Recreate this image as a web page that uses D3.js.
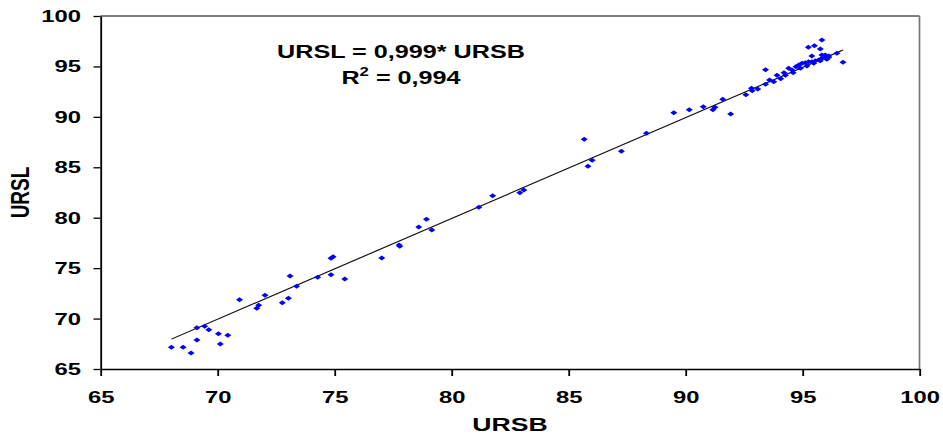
<!DOCTYPE html>
<html><head><meta charset="utf-8">
<script src="https://cdn.jsdelivr.net/npm/d3@7"></script>
<style>body{margin:0;background:#fff}svg{display:block}</style>
</head><body>
<script>
// Data (URSB on x, URSL on y)
const ursb = [68.03,68.53,68.87,69.12,69.12,69.45,69.63,70.04,70.12,70.44,70.94,71.68,71.76,72.03,72.77,73.03,73.38,73.10,74.28,74.85,74.85,74.94,75.44,77.02,77.76,77.79,78.60,78.93,79.16,81.17,81.76,82.92,83.09,85.67,86.01,85.83,87.26,88.33,89.50,90.16,90.76,91.17,91.26,91.59,91.93,92.58,92.82,92.85,93.09,93.42,93.42,93.59,93.77,93.91,94.07,94.21,94.27,94.41,94.55,94.60,94.72,94.84,94.98,95.12,95.26,95.40,95.55,95.69,95.83,95.97,96.12,94.91,95.19,95.48,95.76,96.04,95.83,95.25,95.51,95.76,95.40,95.83,95.97,96.12,96.47,96.73];
const ursl = [67.15,67.15,66.59,67.88,69.09,69.23,68.90,68.50,67.48,68.34,71.87,71.02,71.32,72.31,71.57,72.01,73.20,74.22,74.09,74.35,75.98,76.13,73.92,76.01,77.29,77.17,79.08,79.84,78.78,81.03,82.18,82.48,82.75,87.77,85.69,85.10,86.58,88.37,90.41,90.71,91.01,90.71,90.95,91.74,90.28,92.20,92.83,92.59,92.76,94.67,93.23,93.65,93.48,94.12,93.78,94.38,94.12,94.81,94.65,94.38,94.97,95.14,95.31,95.37,95.47,95.47,95.57,95.64,95.81,95.87,95.91,94.81,95.04,95.31,95.57,95.71,97.62,96.90,97.05,96.73,96.03,96.13,96.13,96.03,96.30,95.41];
const xTicks = [65,70,75,80,85,90,95,100];
const yTicks = [65,70,75,80,85,90,95,100];
const slope = 0.999;
const xTitle = "URSB";
const yTitle = "URSL";
const eqLabel = "URSL = 0,999* URSB";
const r2Value = " = 0,994";

const W = 943, H = 436, S = 1.4, VW = W / S;
const font = "'Liberation Sans', Arial, sans-serif";

const svg = d3.select("body").append("svg")
  .attr("width", W).attr("height", H)
  .attr("viewBox", `0 0 ${VW} ${H}`)
  .attr("preserveAspectRatio", "none");

const x = d3.scaleLinear().domain([65, 100]).range([100.5 / S, 919.5 / S]);
const y = d3.scaleLinear().domain([65, 100]).range([369, 16]);

// frame (top & right)
const fr = svg.append("g").attr("fill", "none");
fr.append("line").attr("x1", x(65)).attr("x2", x(100)).attr("y1", y(100)).attr("y2", y(100))
  .attr("stroke", "#000").attr("stroke-width", 1.1);
fr.append("line").attr("x1", x(100)).attr("x2", x(100)).attr("y1", y(100)).attr("y2", y(65))
  .attr("stroke", "#777").attr("stroke-width", 1.2);

// axes
const xa = svg.append("g").attr("transform", `translate(0,${y(65)})`)
  .call(d3.axisBottom(x).tickValues(xTicks).tickSize(7).tickSizeOuter(0).tickFormat(d3.format("d")));
xa.selectAll("text").attr("y", 22).attr("dy", "0.71em");
const ya = svg.append("g").attr("transform", `translate(${x(65)},0)`)
  .call(d3.axisLeft(y).tickValues(yTicks).tickSize(7 / S).tickSizeOuter(0).tickPadding(9).tickFormat(d3.format("d")));
[xa, ya].forEach(g => {
  g.selectAll("path, line").attr("stroke", "#000").attr("stroke-width", 1.3);
  g.selectAll("text").attr("fill", "#000").style("font-family", font)
    .style("font-weight", "bold").style("font-size", "17px");
});

// regression line
const ext = d3.extent(ursb);
svg.append("line")
  .attr("x1", x(ext[0])).attr("y1", y(slope * ext[0]))
  .attr("x2", x(ext[1])).attr("y2", y(slope * ext[1]))
  .attr("stroke", "#111").attr("stroke-width", 1.1);

// points
const sym = d3.symbol().type(d3.symbolDiamond2).size(16);
svg.append("g").selectAll("path").data(ursb).join("path")
  .attr("d", sym)
  .attr("transform", (d, i) => `translate(${x(d)},${y(ursl[i])})`)
  .attr("fill", "#0000ff");

// titles
svg.append("text").attr("x", x(82.5)).attr("y", 431).attr("text-anchor", "middle")
  .style("font-family", font).style("font-weight", "bold").style("font-size", "19px").text(xTitle);
svg.append("text").attr("transform", `translate(${29 / S},${y(82.5)}) rotate(-90)`)
  .attr("text-anchor", "middle")
  .style("font-family", font).style("font-weight", "bold").style("font-size", "19px").text(yTitle);

// annotation
svg.append("text").attr("x", 401 / S).attr("y", 58).attr("text-anchor", "middle")
  .style("font-family", font).style("font-weight", "bold").style("font-size", "18px").text(eqLabel);
const r2 = svg.append("text").attr("x", 401 / S).attr("y", 84).attr("text-anchor", "middle")
  .style("font-family", font).style("font-weight", "bold").style("font-size", "18px");
r2.append("tspan").text("R");
r2.append("tspan").attr("dy", -8).style("font-size", "12px").text("2");
r2.append("tspan").attr("dy", 8).text(r2Value);
</script>
</body></html>
